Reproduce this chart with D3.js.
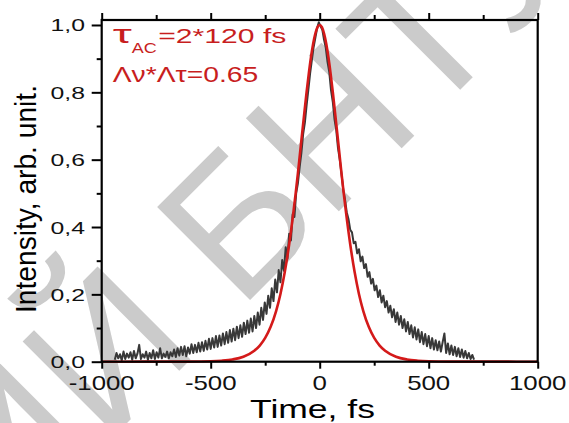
<!DOCTYPE html>
<html>
<head>
<meta charset="utf-8">
<script src="https://cdn.jsdelivr.net/npm/d3@7"></script>
<style>
html,body{margin:0;padding:0;background:#fff;}
svg{display:block;font-family:"Liberation Sans",Arial,sans-serif;}
</style>
</head>
<body>
<svg id="chart" width="569" height="423"></svg>
<script>
// ---- data ----
const timeStart = -940;   // fs, first sample of the measured trace
const timeStep = 8;       // fs between samples
const intensity = [
  0.006,0.026,0.010,0.022,0.004,0.030,0.008,0.024,0.012,0.028,
  0.006,0.032,0.010,0.024,0.050,0.008,0.022,0.012,0.030,0.006,
  0.026,0.010,0.034,0.008,0.028,0.012,0.040,0.010,0.024,0.014,
  0.030,0.010,0.028,0.016,0.036,0.014,0.040,0.018,0.044,0.020,
  0.046,0.016,0.042,0.024,0.052,0.026,0.050,0.028,0.056,0.030,
  0.058,0.032,0.062,0.036,0.068,0.038,0.070,0.042,0.076,0.044,
  0.078,0.048,0.084,0.052,0.088,0.056,0.094,0.060,0.098,0.064,
  0.104,0.070,0.108,0.074,0.116,0.082,0.122,0.086,0.128,0.090,
  0.136,0.100,0.146,0.110,0.160,0.124,0.176,0.142,0.196,0.160,
  0.218,0.180,0.244,0.206,0.272,0.236,0.302,0.270,0.340,0.306,
  0.380,0.360,0.438,0.430,0.500,0.530,0.578,0.620,0.676,0.710,
  0.762,0.808,0.856,0.896,0.934,0.962,0.990,1.008,0.996,0.986,
  0.956,0.932,0.890,0.860,0.806,0.772,0.720,0.688,0.634,0.600,
  0.558,0.512,0.482,0.444,0.424,0.392,0.384,0.352,0.356,0.322,
  0.334,0.298,0.312,0.278,0.290,0.252,0.266,0.232,0.246,0.212,
  0.226,0.192,0.212,0.176,0.196,0.162,0.180,0.146,0.166,0.132,
  0.156,0.118,0.146,0.110,0.136,0.100,0.126,0.090,0.118,0.082,
  0.108,0.072,0.102,0.066,0.096,0.058,0.088,0.052,0.082,0.046,
  0.076,0.040,0.070,0.036,0.064,0.034,0.060,0.030,0.058,0.084,
  0.026,0.054,0.022,0.048,0.020,0.044,0.016,0.040,0.014,0.036,
  0.012,0.032,0.010,0.026,0.008,0.020,0.006
];
const fitTime = [-1000,-800,-700,-600,-500,-450,-400,-350,-300,-275,-250,-225,-200,-180,-160,-140,-120,-110,-100,-90,-80,-70,-60,-50,-40,-30,-20,-10,0,
                 10,20,30,40,50,60,70,80,90,100,110,120,140,160,180,200,225,250,275,300,350,400,450,500,600,700,800,1000];
const fitValue = [0,0.0001,0.0001,0.0003,0.0013,0.003,0.0066,0.0147,0.0324,0.0479,0.0707,0.1036,0.1505,0.2013,0.2669,0.3489,0.4472,0.5016,0.5591,0.6207,0.6816,0.7422,0.8010,0.8556,0.9042,0.9445,0.9748,0.9936,1.0,
                  0.9936,0.9748,0.9445,0.9042,0.8556,0.8010,0.7422,0.6816,0.6207,0.5591,0.5016,0.4472,0.3489,0.2669,0.2013,0.1505,0.1036,0.0707,0.0479,0.0324,0.0147,0.0066,0.003,0.0013,0.0003,0.0001,0.0001,0];
const xTicks = [-1000,-500,0,500,1000];
const xTickLabels = ["-1000","-500","0","500","1000"];
const xMinorTicks = [-750,-250,250,750];
const yTicks = [0,0.2,0.4,0.6,0.8,1.0];
const yTickLabels = ["0,0","0,2","0,4","0,6","0,8","1,0"];
const yMinorTicks = [0.1,0.3,0.5,0.7,0.9];
const xTitle = "Time, fs";
const yTitle = "Intensity, arb. unit.";
const watermarkMain = "БНТУ";
const watermarkPrefix = "РЕПОЗИТОРИЙ";

// ---- layout ----
const svg = d3.select("#chart");
const X0 = 101.7, X1 = 537.7, YB = 361.7, YT = 20;
const x = d3.scaleLinear().domain([-1000, 1000]).range([X0, X1]);
const y = d3.scaleLinear().domain([0, 1.0148]).range([YB, YT]);

svg.append("rect").attr("width", 569).attr("height", 423).attr("fill", "#fff");

// watermark
const wm = svg.append("g").attr("transform", "translate(239,311) rotate(-45)")
  .attr("fill", "#cbcbcb").style("font-family", "'Liberation Sans',Arial,sans-serif").style("font-size", "191px");
wm.append("text").attr("x", 0).attr("y", 0).text(watermarkMain);
wm.append("text").attr("x", -53).attr("y", 0).attr("text-anchor", "end").text(watermarkPrefix);

// measured trace
const trace = intensity.map((v, i) => [timeStart + i * timeStep, v]);
svg.append("path").datum(trace)
  .attr("fill", "none").attr("stroke", "#383838").attr("stroke-width", 2.0).attr("stroke-linejoin", "round")
  .attr("d", d3.line().x(d => x(d[0])).y(d => y(d[1])));

// fit
const fit = fitTime.map((t, i) => [t, fitValue[i]]);
svg.append("path").datum(fit)
  .attr("fill", "none").attr("stroke", "#d41a1a").attr("stroke-width", 2.6)
  .attr("d", d3.line().curve(d3.curveMonotoneX).x(d => x(d[0])).y(d => y(d[1])));

// axes
function styleAxis(g) {
  g.select(".domain").remove();
  g.selectAll(".tick line").attr("stroke", "#000").attr("stroke-width", 2);
}
svg.append("g").attr("transform", `translate(${X0},0)`)
  .call(d3.axisLeft(y).tickValues(yTicks).tickSize(10).tickFormat("")).call(styleAxis);
svg.append("g").attr("transform", `translate(${X0},0)`)
  .call(d3.axisLeft(y).tickValues(yMinorTicks).tickSize(5).tickFormat("")).call(styleAxis);
svg.append("g").attr("transform", `translate(0,${YB})`)
  .call(d3.axisBottom(x).tickValues(xTicks).tickSize(7).tickFormat("")).call(styleAxis);
svg.append("g").attr("transform", `translate(0,${YB})`)
  .call(d3.axisBottom(x).tickValues(xMinorTicks).tickSize(4).tickFormat("")).call(styleAxis);
svg.append("g").attr("transform", `translate(0,${YT})`)
  .call(d3.axisTop(x).tickValues(xTicks).tickSize(7).tickFormat("")).call(styleAxis);
svg.append("g").attr("transform", `translate(0,${YT})`)
  .call(d3.axisTop(x).tickValues(xMinorTicks).tickSize(5).tickFormat("")).call(styleAxis);

svg.append("rect").attr("x", X0).attr("y", YT).attr("width", X1 - X0).attr("height", YB - YT)
  .attr("fill", "none").attr("stroke", "#000").attr("stroke-width", 2.2);

// tick labels
svg.append("g").selectAll("text").data(yTicks).join("text")
  .attr("transform", (d) => `translate(85,${y(d) + 6.5}) scale(1.5,1)`)
  .attr("text-anchor", "end").style("font-size", "16.5px").attr("fill", "#111")
  .text((d, i) => yTickLabels[i]);
svg.append("g").selectAll("text").data(xTicks).join("text")
  .attr("transform", (d) => `translate(${x(d)},390) scale(1.23,1)`)
  .attr("text-anchor", "middle").style("font-size", "21px").attr("fill", "#111")
  .text((d, i) => xTickLabels[i]);

// axis titles
svg.append("text").attr("x", 250).attr("y", 418).style("font-size", "25.6px").attr("fill", "#000")
  .attr("textLength", 125).attr("lengthAdjust", "spacingAndGlyphs").text(xTitle);
svg.append("text").attr("transform", "translate(36,199) rotate(-90)").attr("text-anchor", "middle")
  .style("font-size", "29px").attr("fill", "#000")
  .attr("textLength", 228).attr("lengthAdjust", "spacingAndGlyphs").text(yTitle);

// annotation
const red = "#c81e1e";
svg.append("text").attr("x", 112.7).attr("y", 43.3).style("font-size", "26px").attr("fill", red)
  .attr("textLength", 19).attr("lengthAdjust", "spacingAndGlyphs").text("τ");
svg.append("text").attr("x", 131.7).attr("y", 53.3).style("font-size", "15px").attr("fill", red)
  .attr("textLength", 25).attr("lengthAdjust", "spacingAndGlyphs").text("AC");
svg.append("text").attr("x", 158.3).attr("y", 43.3).style("font-size", "21px").attr("fill", red)
  .attr("textLength", 128).attr("lengthAdjust", "spacingAndGlyphs").text("=2*120 fs");
svg.append("text").attr("x", 112.7).attr("y", 81.7).style("font-size", "22px").attr("fill", red)
  .attr("textLength", 145.6).attr("lengthAdjust", "spacingAndGlyphs").text("Λν*Λτ=0.65");
</script>
</body>
</html>
